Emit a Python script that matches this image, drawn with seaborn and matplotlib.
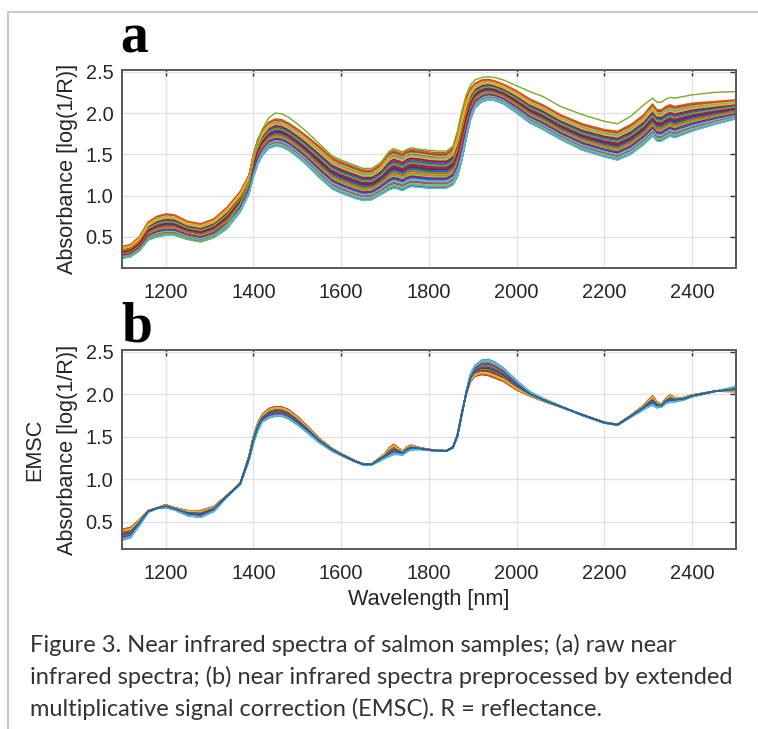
import numpy as np
import pandas as pd
import matplotlib
matplotlib.use("Agg")
import matplotlib.pyplot as plt
from matplotlib.lines import Line2D
import seaborn as sns

# ---------------- data ----------------
wavelength = [1100, 1120, 1140, 1160, 1180, 1200, 1220, 1250, 1280, 1310,
              1340, 1370, 1390, 1400, 1410, 1420, 1435, 1450, 1465, 1480,
              1500, 1520, 1550, 1580, 1600, 1630, 1650, 1670, 1690, 1700,
              1710, 1720, 1730, 1740, 1750, 1760, 1780, 1800, 1820, 1840,
              1855, 1865, 1875, 1885, 1895, 1905, 1920, 1935, 1950, 1970,
              2000, 2030, 2060, 2100, 2150, 2200, 2230, 2260, 2290, 2300,
              2310, 2320, 2330, 2340, 2350, 2360, 2380, 2400, 2450, 2500]

# panel a: raw spectra, lower and upper edge of the bundle
raw_low = [0.24, 0.26, 0.33, 0.46, 0.50, 0.52, 0.52, 0.47, 0.44, 0.49,
           0.60, 0.80, 1.02, 1.22, 1.38, 1.48, 1.57, 1.60, 1.59, 1.55,
           1.47, 1.38, 1.22, 1.08, 1.03, 0.97, 0.94, 0.95, 1.01, 1.04,
           1.07, 1.09, 1.08, 1.06, 1.09, 1.11, 1.10, 1.09, 1.09, 1.09,
           1.13, 1.22, 1.42, 1.68, 1.92, 2.06, 2.13, 2.16, 2.15, 2.11,
           2.00, 1.88, 1.80, 1.68, 1.55, 1.47, 1.43, 1.50, 1.62, 1.67,
           1.72, 1.66, 1.66, 1.69, 1.72, 1.70, 1.74, 1.78, 1.86, 1.93]
raw_high = [0.38, 0.41, 0.50, 0.68, 0.75, 0.78, 0.77, 0.69, 0.66, 0.72,
            0.86, 1.05, 1.25, 1.50, 1.68, 1.79, 1.89, 1.93, 1.92, 1.88,
            1.81, 1.73, 1.60, 1.46, 1.41, 1.35, 1.31, 1.31, 1.38, 1.45,
            1.52, 1.55, 1.53, 1.51, 1.55, 1.56, 1.55, 1.53, 1.52, 1.52,
            1.58, 1.75, 1.98, 2.18, 2.30, 2.36, 2.40, 2.41, 2.39, 2.35,
            2.27, 2.17, 2.10, 1.98, 1.87, 1.80, 1.78, 1.86, 1.98, 2.05,
            2.11, 2.04, 2.04, 2.08, 2.10, 2.08, 2.10, 2.12, 2.14, 2.16]
# the single green outlier sample on top
raw_outlier = [0.26, 0.28, 0.35, 0.48, 0.52, 0.54, 0.54, 0.48, 0.45, 0.51,
               0.66, 0.90, 1.15, 1.42, 1.65, 1.80, 1.94, 2.00, 1.99, 1.95,
               1.87, 1.78, 1.63, 1.48, 1.43, 1.37, 1.33, 1.33, 1.40, 1.47,
               1.54, 1.57, 1.55, 1.53, 1.56, 1.58, 1.56, 1.55, 1.54, 1.54,
               1.60, 1.78, 2.02, 2.22, 2.34, 2.40, 2.43, 2.44, 2.43, 2.40,
               2.33, 2.26, 2.20, 2.08, 1.98, 1.90, 1.87, 1.96, 2.10, 2.14,
               2.18, 2.13, 2.13, 2.17, 2.19, 2.18, 2.20, 2.22, 2.25, 2.26]

# panel b: EMSC corrected spectra, the two edges of the bundle
emsc_edge0 = [0.28, 0.31, 0.45, 0.61, 0.655, 0.665, 0.64, 0.57, 0.55, 0.62,
              0.79, 0.94, 1.22, 1.42, 1.57, 1.67, 1.72, 1.74, 1.74, 1.71,
              1.64, 1.56, 1.43, 1.33, 1.28, 1.21, 1.17, 1.17, 1.22, 1.245,
              1.27, 1.29, 1.29, 1.285, 1.32, 1.345, 1.35, 1.34, 1.33, 1.33,
              1.37, 1.50, 1.75, 2.02, 2.24, 2.34, 2.40, 2.41, 2.38, 2.31,
              2.16, 2.03, 1.95, 1.86, 1.75, 1.66, 1.635, 1.73, 1.82, 1.85,
              1.87, 1.84, 1.85, 1.89, 1.905, 1.91, 1.93, 1.97, 2.03, 2.09]
emsc_edge1 = [0.41, 0.43, 0.52, 0.63, 0.66, 0.70, 0.665, 0.63, 0.63, 0.68,
              0.81, 0.95, 1.27, 1.50, 1.66, 1.76, 1.83, 1.855, 1.85, 1.82,
              1.74, 1.64, 1.48, 1.36, 1.30, 1.22, 1.18, 1.18, 1.26, 1.30,
              1.37, 1.41, 1.37, 1.33, 1.38, 1.40, 1.37, 1.35, 1.34, 1.335,
              1.38, 1.52, 1.78, 2.00, 2.15, 2.21, 2.23, 2.22, 2.19, 2.15,
              2.05, 1.98, 1.92, 1.85, 1.76, 1.67, 1.645, 1.75, 1.87, 1.93,
              1.98, 1.91, 1.88, 1.95, 1.99, 1.96, 1.96, 1.99, 2.035, 2.03]

# position of every sample inside the bundle (0 = first edge, 1 = second edge)
sample_pos_raw = [0.03, 1.00, 0.62, 0.01, 0.45, 0.00, 0.88,
                  0.15, 0.74, 0.33, 0.52, 0.27, 0.10, 0.95,
                  0.58, 0.21, 0.81, 0.40, 0.67, 0.06, 0.49,
                  0.92, 0.36, 0.70, 0.12, 0.85, 0.30, 0.55,
                  0.24, 0.64, 0.09, 0.78, 0.43, 0.18, 0.60,
                  0.47, 0.97, 0.39, 0.72, 0.05, 0.83, 0.28,
                  0.68, 0.14, 0.90, 0.57, 0.35, 0.20, 0.76,
                  0.50, 0.41, 0.80, 0.26, 0.63, 0.08, 0.53]
sample_pos_emsc = [0.00, 0.85, 0.70, 1.00, 0.45, 0.02, 0.93,
                   0.12, 0.60, 0.35, 0.96, 0.28, 0.08, 0.77,
                   0.52, 0.18, 0.88, 0.40, 0.65, 0.05, 0.47,
                   0.91, 0.33, 0.72, 0.14, 0.81, 0.25, 0.56,
                   0.22, 0.68, 0.10, 0.79, 0.43, 0.16, 0.58,
                   0.49, 0.98, 0.38, 0.74, 0.04, 0.84, 0.30,
                   0.66, 0.20, 0.89, 0.54, 0.36, 0.24, 0.75,
                   0.50, 0.42, 0.82, 0.27, 0.62, 0.07, 0.55, 0.48]

x_ticks = [1200, 1400, 1600, 1800, 2000, 2200, 2400]
y_ticks = [0.5, 1.0, 1.5, 2.0, 2.5]
y_label = "Absorbance [log(1/R)]"
x_label = "Wavelength [nm]"
caption = ["Figure 3. Near infrared spectra of salmon samples; (a) raw near",
           "infrared spectra; (b) near infrared spectra preprocessed by extended",
           "multiplicative signal correction (EMSC). R = reflectance."]

matlab_colors = ["#0072BD", "#D95319", "#EDB120", "#7E2F8E",
                 "#77AC30", "#4DBEEE", "#A2142F"]

# ---------------- build long tables ----------------
wl = np.array(wavelength, dtype=float)


def bundle(edge0, edge1, positions):
    e0 = np.array(edge0)
    e1 = np.array(edge1)
    rows = []
    for i, t in enumerate(positions):
        vals = e0 + t * (e1 - e0)
        rows.append(pd.DataFrame({"wl": wl, "abs": vals, "sample": i}))
    return rows


rows_a = bundle(raw_low, raw_high, sample_pos_raw)
rows_a.append(pd.DataFrame({"wl": wl, "abs": raw_outlier,
                            "sample": len(sample_pos_raw)}))
df_a = pd.concat(rows_a, ignore_index=True)
pal_a = [matlab_colors[i % 7] for i in range(len(sample_pos_raw))] + ["#77AC30"]

df_b = pd.concat(bundle(emsc_edge0, emsc_edge1, sample_pos_emsc), ignore_index=True)
pal_b = [matlab_colors[i % 7] for i in range(len(sample_pos_emsc))]

# ---------------- figure ----------------
sns.set_theme(style="white")
plt.rcParams["font.family"] = ["Liberation Sans", "DejaVu Sans"]

W, H = 758, 729
fig = plt.figure(figsize=(W / 100, H / 100), dpi=100)
fig.patch.set_facecolor("white")


def fx(px):
    return px / W


def fy(py):
    return 1 - py / H


ax_a = fig.add_axes([fx(121.7), fy(268.3), fx(736) - fx(121.7), (268.3 - 69.5) / H])
ax_b = fig.add_axes([fx(121.7), fy(549), fx(736) - fx(121.7), (549 - 350) / H])

sns.lineplot(data=df_a, x="wl", y="abs", hue="sample", palette=pal_a,
             legend=False, ax=ax_a, linewidth=1.0, estimator=None, sort=False)
sns.lineplot(data=df_b, x="wl", y="abs", hue="sample", palette=pal_b,
             legend=False, ax=ax_b, linewidth=1.0, estimator=None, sort=False)

for ax, ylim in ((ax_a, (0.121, 2.527)), (ax_b, (0.178, 2.52))):
    ax.set_xlim(1100, 2500)
    ax.set_ylim(*ylim)
    ax.set_xticks(x_ticks)
    ax.set_yticks(y_ticks)
    ax.set_yticklabels([f"{v:.1f}" for v in y_ticks])
    ax.set_xlabel("")
    ax.set_ylabel("")
    ax.grid(True, color="#e2e2e2", linewidth=1.0)
    ax.set_axisbelow(True)
    for s in ax.spines.values():
        s.set_visible(True)
        s.set_color("#5a5a5a")
        s.set_linewidth(1.4)
    ax.tick_params(axis="both", direction="in", length=4, width=1.0,
                   color="#333333", labelcolor="#262626", labelsize=14.4,
                   top=True, right=True)
    ax.tick_params(axis="x", pad=10.5)
    ax.tick_params(axis="y", pad=6.0)
    ax.set_facecolor("white")

# axis labels
fig.text(fx(67), fy(169), y_label, rotation=90, ha="center", va="center",
         fontsize=15.6, color="#262626")
fig.text(fx(35), fy(449.5), "EMSC", rotation=90, ha="center", va="center",
         fontsize=15.6, color="#262626")
fig.text(fx(67), fy(449.5), y_label, rotation=90, ha="center", va="center",
         fontsize=15.6, color="#262626")
fig.text(fx(429), fy(599), x_label, ha="center", va="center",
         fontsize=15.6, color="#262626")

# panel letters
fig.text(fx(120), fy(52.7), "a", ha="left", va="baseline", fontsize=40,
         fontweight="bold", family=["Liberation Serif", "DejaVu Serif"], color="black")
fig.text(fx(121), fy(341.7), "b", ha="left", va="baseline", fontsize=40,
         fontweight="bold", family=["Liberation Serif", "DejaVu Serif"], color="black")

# caption
for i, line in enumerate(caption):
    fig.text(fx(30.5), fy(651.7 + 32.2 * i), line, ha="left", va="baseline",
             fontsize=17.0, family=["Lato", "DejaVu Sans"], color="#333333")

# frame around the figure
fig.add_artist(Line2D([fx(8), 1.0], [fy(11.7), fy(11.7)], color="#c8c8c8",
                      linewidth=1.5, transform=fig.transFigure))
fig.add_artist(Line2D([fx(8), fx(8)], [fy(11.7), 0.0], color="#c8c8c8",
                      linewidth=1.5, transform=fig.transFigure))

fig.savefig("out.png", dpi=100, facecolor="white")
